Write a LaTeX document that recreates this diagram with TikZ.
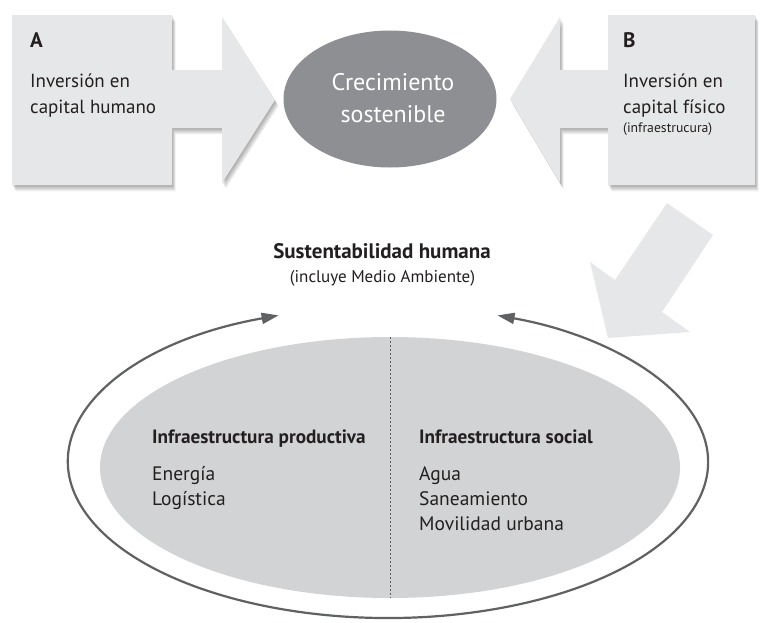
\documentclass[tikz,border=0pt]{standalone}
\usepackage{fontspec}
\setmainfont{PT Sans}
\usetikzlibrary{shapes.geometric,arrows.meta}
\definecolor{boxgrey}{HTML}{E6E7E8}
\definecolor{crecgrey}{HTML}{8E8F92}
\definecolor{innergrey}{HTML}{D1D3D4}
\definecolor{loopgrey}{HTML}{606163}
\definecolor{textdark}{HTML}{231F20}
\def\shapeA{(12,15) -- (172,15) -- (172,70) -- (222,70) -- (222,17) -- (275,100) -- (222,183) -- (222,128) -- (172,128) -- (172,185) -- (12,185) -- cycle}
\def\shapeB{(755,15) -- (608,15) -- (608,70) -- (560,70) -- (560,17) -- (510,99) -- (560,183) -- (560,128) -- (608,128) -- (608,185) -- (755,185) -- cycle}
\begin{document}
\begin{tikzpicture}[x=1pt,y=-1pt,
  every node/.style={inner sep=0pt, text=textdark},
  lbl/.style={anchor=base west, font=\fontsize{19}{23}\selectfont},
  hdr/.style={anchor=base west, font=\fontsize{21}{25}\selectfont\bfseries},
  small/.style={anchor=base west, font=\fontsize{13.7}{16}\selectfont},
  inhdr/.style={anchor=base west, font=\fontsize{19.2}{23}\selectfont\bfseries},
  initem/.style={anchor=base west, font=\fontsize{19.5}{23}\selectfont},
  loopline/.style={draw=loopgrey, line width=2.2pt, {Triangle[length=17pt,width=11pt]}-{Triangle[length=17pt,width=11pt]}}
]
\useasboundingbox (0,0) rectangle (767,622);
\fill[white] (0,0) rectangle (767,622);

% shadows
\foreach \k in {1,...,7}{
  \fill[black, opacity=0.05, shift={(0.5*\k,0.9*\k)}] \shapeA;
  \fill[black, opacity=0.05, shift={(0.5*\k,0.9*\k)}] \shapeB;
}
\fill[boxgrey] \shapeA;
\fill[boxgrey] \shapeB;

% diagonal arrow
\fill[boxgrey] (667,203) -- (615,280) -- (590,262) -- (608,338) -- (690,332) -- (662,312) -- (713,235) -- cycle;

% growth ellipse
\node[ellipse, fill=crecgrey, minimum width=213pt, minimum height=137pt] (crec) at (390,99) {};
\node[anchor=base, text=white, font=\fontsize{24}{30}\selectfont] (crec1) at (393,90) {Crecimiento};
\node[anchor=base, text=white, font=\fontsize{24}{30}\selectfont] (crec2) at (393,122) {sostenible};

% box texts
\node[hdr] (la) at (30,47) {A};
\node[lbl] (a1) at (30,87) {Inversión en};
\node[lbl] (a2) at (30,113) {capital humano};
\node[hdr] (lb) at (623,47) {B};
\node[lbl] (b1) at (623,87) {Inversión en};
\node[lbl] (b2) at (623,113) {capital físico};
\node[small] (b3) at (623,132) {(infraestrucura)};

% titles
\node[anchor=base, font=\fontsize{21}{25}\selectfont\bfseries] (sust) at (382,258) {Sustentabilidad humana};
\node[anchor=base, font=\fontsize{17}{20}\selectfont] (incl) at (382.5,282) {(incluye Medio Ambiente)};

% inner ellipse
\node[ellipse, fill=innergrey, minimum width=580pt, minimum height=261pt] (inner) at (390,467.5) {};
\draw[loopgrey, line width=1pt, dash pattern=on 2.5pt off 1.5pt] (inner.north) -- (inner.south);

% loop
\coordinate (loopstart) at (278.6,315.4);
\draw[loopline] (loopstart) arc[start angle=110, end angle=430, x radius=320pt, y radius=156pt];

% inner texts
\node[inhdr] (ip) at (152,443) {Infraestructura productiva};
\node[initem] (e1) at (152,480) {Energía};
\node[initem] (e2) at (152,505) {Logística};
\node[inhdr] (is) at (419,443) {Infraestructura social};
\node[initem] (s1) at (419,480) {Agua};
\node[initem] (s2) at (419,505) {Saneamiento};
\node[initem] (s3) at (419,530) {Movilidad urbana};
\end{tikzpicture}
\end{document}
